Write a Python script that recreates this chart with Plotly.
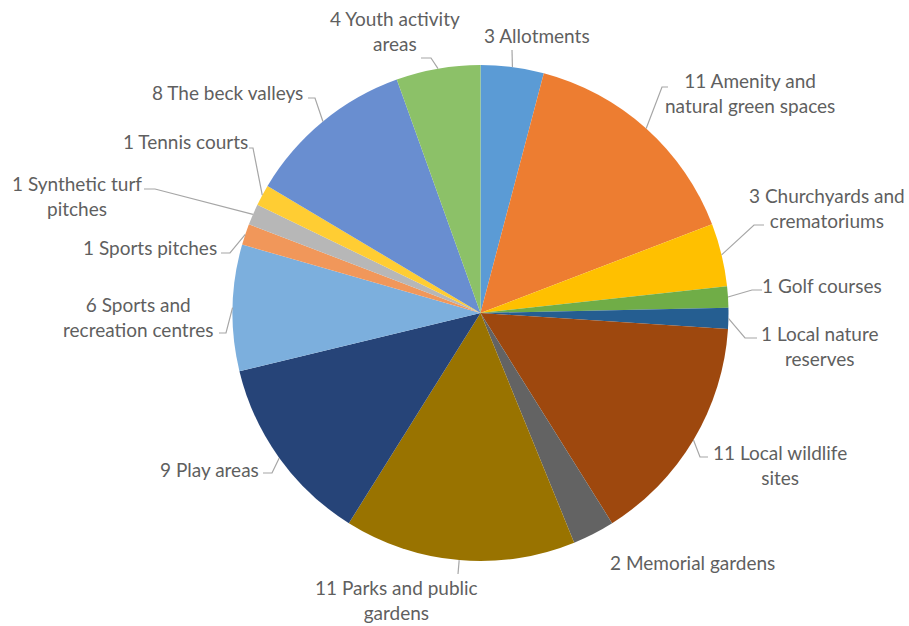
import math
import plotly.graph_objects as go

# ---- data ----
categories = ["Allotments", "Amenity and natural green spaces", "Churchyards and crematoriums",
              "Golf courses", "Local nature reserves", "Local wildlife sites", "Memorial gardens",
              "Parks and public gardens", "Play areas", "Sports and recreation centres",
              "Sports pitches", "Synthetic turf pitches", "Tennis courts", "The beck valleys",
              "Youth activity areas"]
values = [3, 11, 3, 1, 1, 11, 2, 11, 9, 6, 1, 1, 1, 8, 4]

# ---- styles / layout ----
colors = ["#5B9BD5", "#ED7D31", "#FFC000", "#70AD47", "#255E91", "#9E480E", "#636363",
          "#997300", "#264478", "#7CAFDD", "#F1975A", "#B7B7B7", "#FFCD33", "#698ED0", "#8CC168"]
# number of words on first label line (0 = single line)
first_line_words = [0, 3, 3, 0, 3, 3, 0, 4, 0, 3, 0, 3, 0, 0, 3]
# label text centres (px) and leader elbows (x, y, tail_x) in px
label_pos = [(537, 36), (750, 93), (827, 208), (822, 285), (819, 346), (780, 465), (692, 562),
             (396, 600), (209, 469), (138, 317), (150, 247), (77, 196), (185, 142), (228, 93),
             (395, 31)]
elbows = [(512, 50, 512), (662, 87, 668), (754, 225, 764), (752, 290, 762), (745, 338, 757),
          (700, 457, 708), None, (458, 574, 458), (272, 473, 263), (226, 333, 219),
          (230, 253, 221), (155, 189, 144), (253, 148, 249), (315, 98, 308), (431, 58, 421)]

W, H = 909, 626
CX, CY, R = 480.5, 313, 248


def px(x):
    return x / W


def py(y):
    return 1 - y / H


fig = go.Figure(go.Pie(
    labels=categories, values=values, sort=False, direction="clockwise", rotation=0,
    marker=dict(colors=colors, line=dict(width=0)), textinfo="none", hoverinfo="label+value",
    showlegend=False,
    domain=dict(x=[px(CX - R), px(CX + R)], y=[py(CY + R), py(CY - R)]),
))

total = sum(values)
cum = 0
shapes, annotations = [], []
for i, v in enumerate(values):
    mid = (cum + v / 2) / total * 2 * math.pi
    cum += v
    ex, ey = CX + R * math.sin(mid), CY - R * math.cos(mid)
    words = f"{v} {categories[i]}".split(" ")
    n = first_line_words[i]
    text = " ".join(words) if n == 0 else " ".join(words[:n]) + "<br>" + " ".join(words[n:])
    lx, ly = label_pos[i]
    annotations.append(dict(x=px(lx), y=py(ly), xref="paper", yref="paper", text=text,
                            showarrow=False, xanchor="center", yanchor="middle", align="center",
                            font=dict(family="Lato, Open Sans, sans-serif", size=19, color="#5f5f5f")))
    if elbows[i] is not None:
        bx, by, tx = elbows[i]
        path = f"M {px(ex)},{py(ey)} L {px(bx)},{py(by)} L {px(tx)},{py(by)}"
        shapes.append(dict(type="path", path=path, xref="paper", yref="paper",
                           line=dict(color="#A6A6A6", width=1.2)))

fig.update_layout(width=W, height=H, margin=dict(l=0, r=0, t=0, b=0),
                  paper_bgcolor="white", plot_bgcolor="white",
                  shapes=shapes, annotations=annotations)
fig.write_html("out.html", config={"displayModeBar": False},
               post_script="document.body.style.margin='0';document.body.style.overflow='hidden';")
